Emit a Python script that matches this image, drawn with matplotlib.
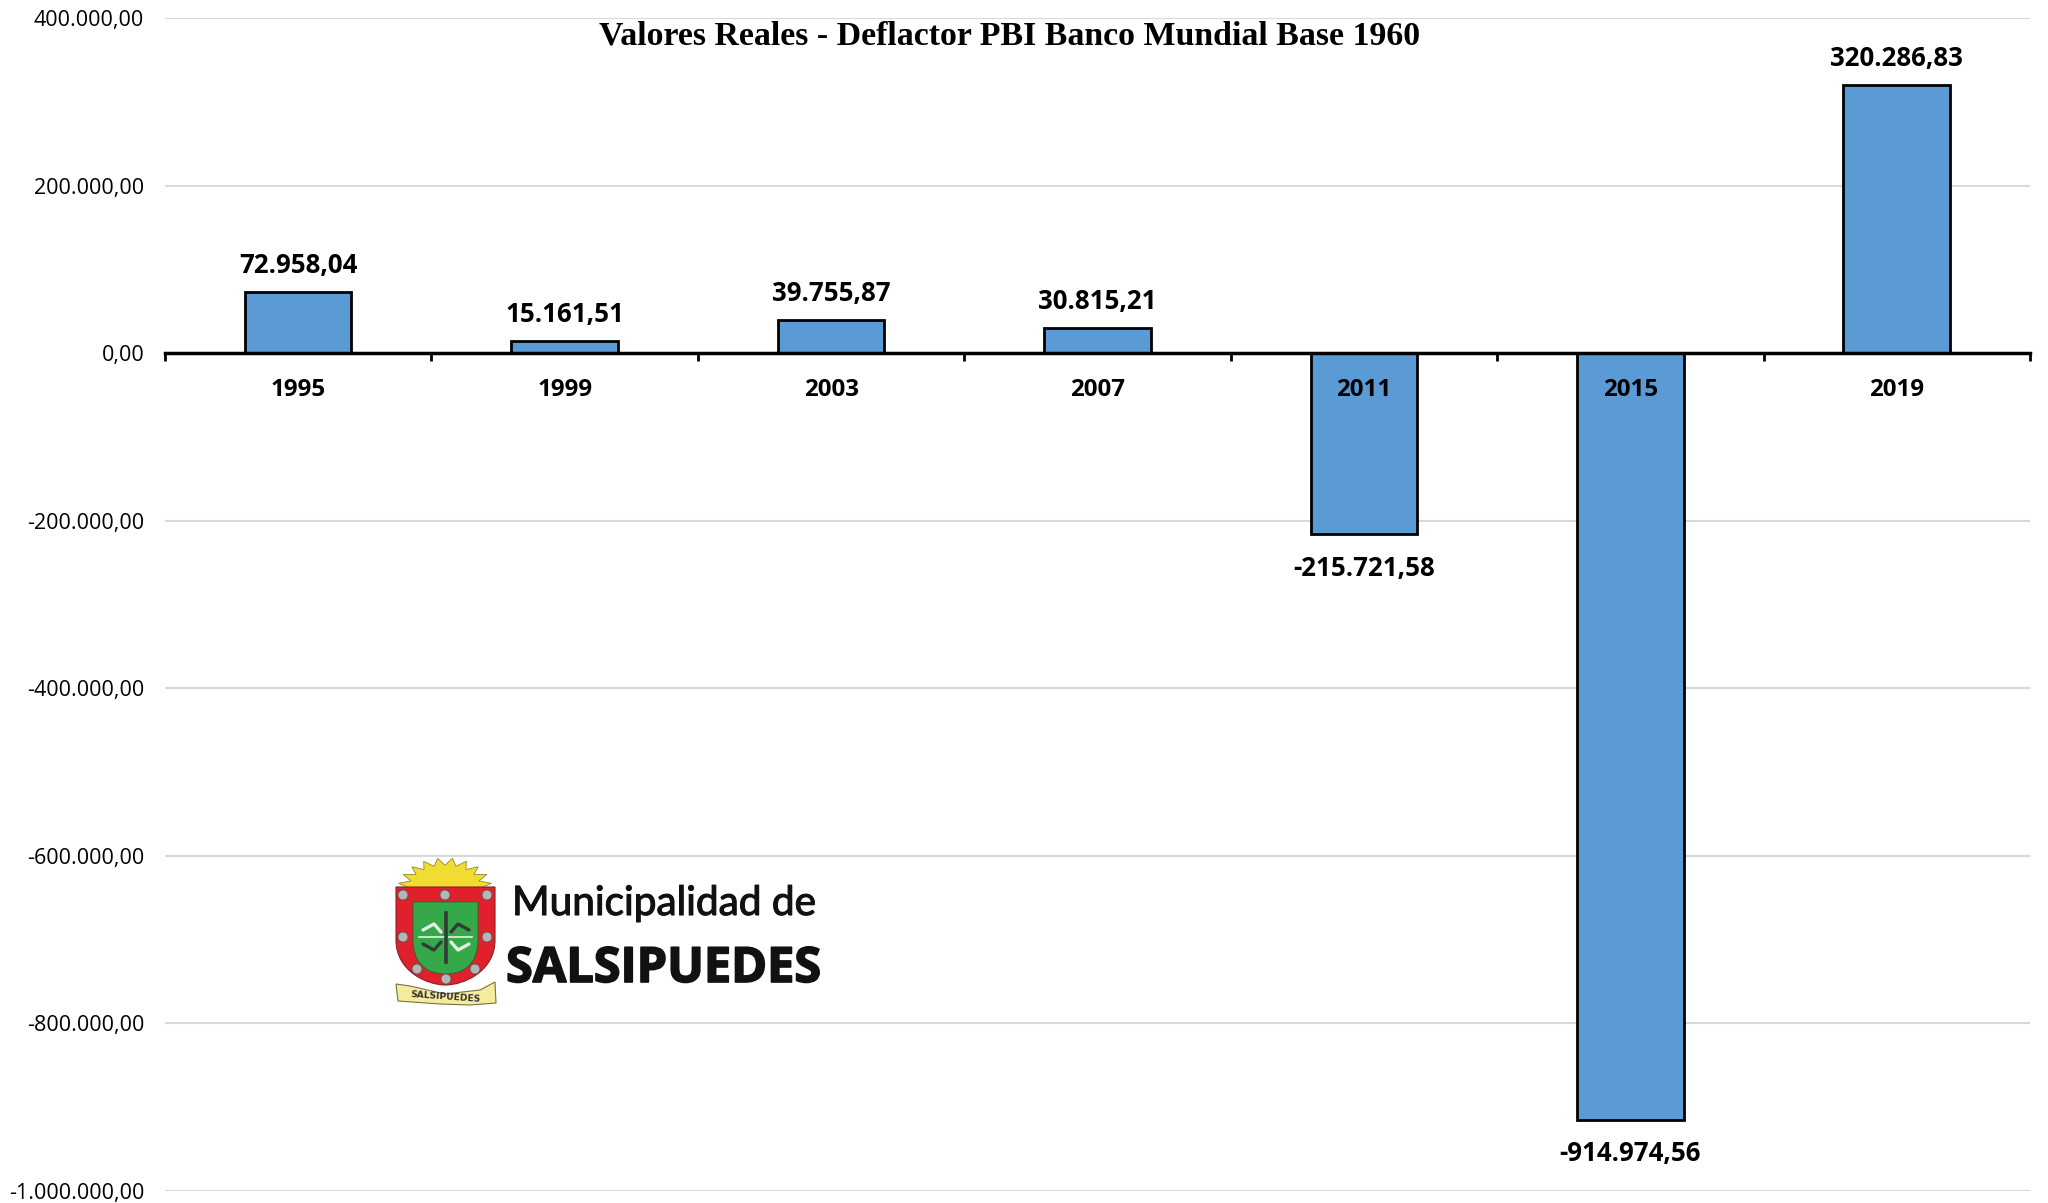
import numpy as np
import matplotlib
matplotlib.use('Agg')
import matplotlib.pyplot as plt
import matplotlib.patheffects as pe
from matplotlib.patches import Polygon, Circle, PathPatch
from matplotlib.path import Path

# Data
years = ['1995', '1999', '2003', '2007', '2011', '2015', '2019']
values = [72958.04, 15161.51, 39755.87, 30815.21, -215721.58, -914974.56, 320286.83]
value_labels = ['72.958,04', '15.161,51', '39.755,87', '30.815,21',
                '-215.721,58', '-914.974,56', '320.286,83']
y_ticks = [400000, 200000, 0, -200000, -400000, -600000, -800000, -1000000]
y_tick_labels = ['400.000,00', '200.000,00', '0,00', '-200.000,00', '-400.000,00',
                 '-600.000,00', '-800.000,00', '-1.000.000,00']
title = 'Valores Reales - Deflactor PBI Banco Mundial Base 1960'

W, H = 2048, 1203
fig = plt.figure(figsize=(W / 100, H / 100), dpi=100)
ax = fig.add_axes([165 / W, 1 - 1191 / H, (2030 - 165) / W, (1191 - 18.3) / H])

x = np.arange(len(years))
ax.set_axisbelow(True)
ax.grid(axis='y', color='#d9d9d9', lw=1.5)
ax.bar(x, values, width=0.4, color='#5b9bd5', edgecolor='black', lw=2.0, zorder=2)
ax.set_xlim(-0.5, len(years) - 0.5)
ax.set_ylim(-1000000, 400000)

for s in ['top', 'left', 'right']:
    ax.spines[s].set_visible(False)
ax.spines['bottom'].set_position(('data', 0))
ax.spines['bottom'].set_linewidth(2.5)
ax.spines['bottom'].set_zorder(3)

ax.set_xticks(np.arange(-0.5, len(years)))
ax.set_xticklabels([])
ax.tick_params(axis='x', length=6, width=2, color='black', direction='out')
ax.set_yticks(y_ticks)
ax.set_yticklabels(y_tick_labels, fontfamily='Open Sans', fontsize=15.5)
ax.tick_params(axis='y', length=0, pad=15)

# Year labels and value labels
for i, (yr, v, lab) in enumerate(zip(years, values, value_labels)):
    ax.annotate(yr, (i, 0), xytext=(0, -26.5), textcoords='offset points', ha='center', va='center',
                fontfamily='Open Sans', fontweight='bold', fontsize=17.4, zorder=6, annotation_clip=False)
    off = 19 if v > 0 else -24.5
    ax.annotate(lab, (i, v), xytext=(0, off), textcoords='offset points', ha='center', va='center',
                fontfamily='Open Sans', fontweight='bold', fontsize=18.6, zorder=6, annotation_clip=False)

# Overlay in pixel coordinates for title and logo
ov = fig.add_axes([0, 0, 1, 1], zorder=10)
ov.set_xlim(0, W)
ov.set_ylim(H, 0)
ov.axis('off')
ov.patch.set_alpha(0)

ov.text(1010, 36, title, ha='center', va='center', fontfamily='Liberation Serif',
        fontweight='bold', fontsize=24.4)

# Logo: sun
n_sun = 21
angles = np.linspace(np.pi, 0, n_sun)
radii = np.where(np.arange(n_sun) % 2 == 1, 1.0, 0.76)
sun = np.c_[445 + 47 * radii * np.cos(angles), 888 - 30 * radii * np.sin(angles)]
ov.add_patch(Polygon(sun, fc='#f2dc32', ec='#8f8a30', lw=0.6))


def shield(l, r, top, mid, bot):
    c = (l + r) / 2
    return Path([(l, top), (r, top), (r, mid), (r, mid + (bot - mid) * 0.7), (c + 18, bot), (c, bot),
                 (c - 18, bot), (l, mid + (bot - mid) * 0.7), (l, mid), (l, top)],
                [Path.MOVETO, Path.LINETO, Path.LINETO, Path.CURVE4, Path.CURVE4, Path.CURVE4,
                 Path.CURVE4, Path.CURVE4, Path.CURVE4, Path.CLOSEPOLY])


ov.add_patch(PathPatch(shield(396, 495, 887, 940, 985), fc='#e0202a', ec='#8a2020', lw=0.8))
ov.add_patch(PathPatch(shield(413, 478, 902, 940, 974), fc='#35a84a', ec='#1d6b30', lw=0.6))

# Studs on the red border
for cx, cy in [(403, 895), (445, 895), (487, 895), (403, 937), (487, 937),
               (417, 969), (475, 969), (446, 979)]:
    ov.add_patch(Circle((cx, cy), 5, fc='#b5b5b5', ec='#555555', lw=0.6))

# Cross
ov.plot([419, 472], [937, 937], color='#e8efe8', lw=1.2)
ov.plot([446, 446], [913, 962], color='#333b36', lw=2.6)
for dx, dy in [(-1, -1), (1, -1), (-1, 1), (1, 1)]:
    col = '#e4eee4' if dx * dy > 0 else '#333b36'
    ov.plot([446 + dx * 5, 446 + dx * 12, 446 + dx * 23], [937 + dy * 5, 937 + dy * 13, 937 + dy * 7],
            color=col, lw=2.4, solid_capstyle='round')

# Ribbon
ov.add_patch(Polygon([(396, 984), (410, 986), (445, 994), (480, 990), (495, 982),
                      (496, 1003), (470, 1005), (440, 1004), (398, 1001)],
                     fc='#f4ec9c', ec='#77733a', lw=0.8))
ov.text(446, 997, 'SALSIPUEDES', ha='center', va='center', fontfamily='DejaVu Sans', fontweight='bold',
        fontsize=6.6, rotation=-4, color='#333333')

# Logo text
t1 = ov.text(512, 915, 'Municipalidad de', ha='left', va='baseline', fontfamily='Lato',
             fontsize=29.2, color='#111111')
t1.set_path_effects([pe.withStroke(linewidth=0.8, foreground='#111111')])
t2 = ov.text(506, 982, 'SALSIPUEDES', ha='left', va='baseline', fontfamily='Open Sans',
             fontweight='bold', fontsize=35, color='#111111')
t2.set_path_effects([pe.withStroke(linewidth=1.2, foreground='#111111')])

fig.savefig('out.png', dpi=100)
